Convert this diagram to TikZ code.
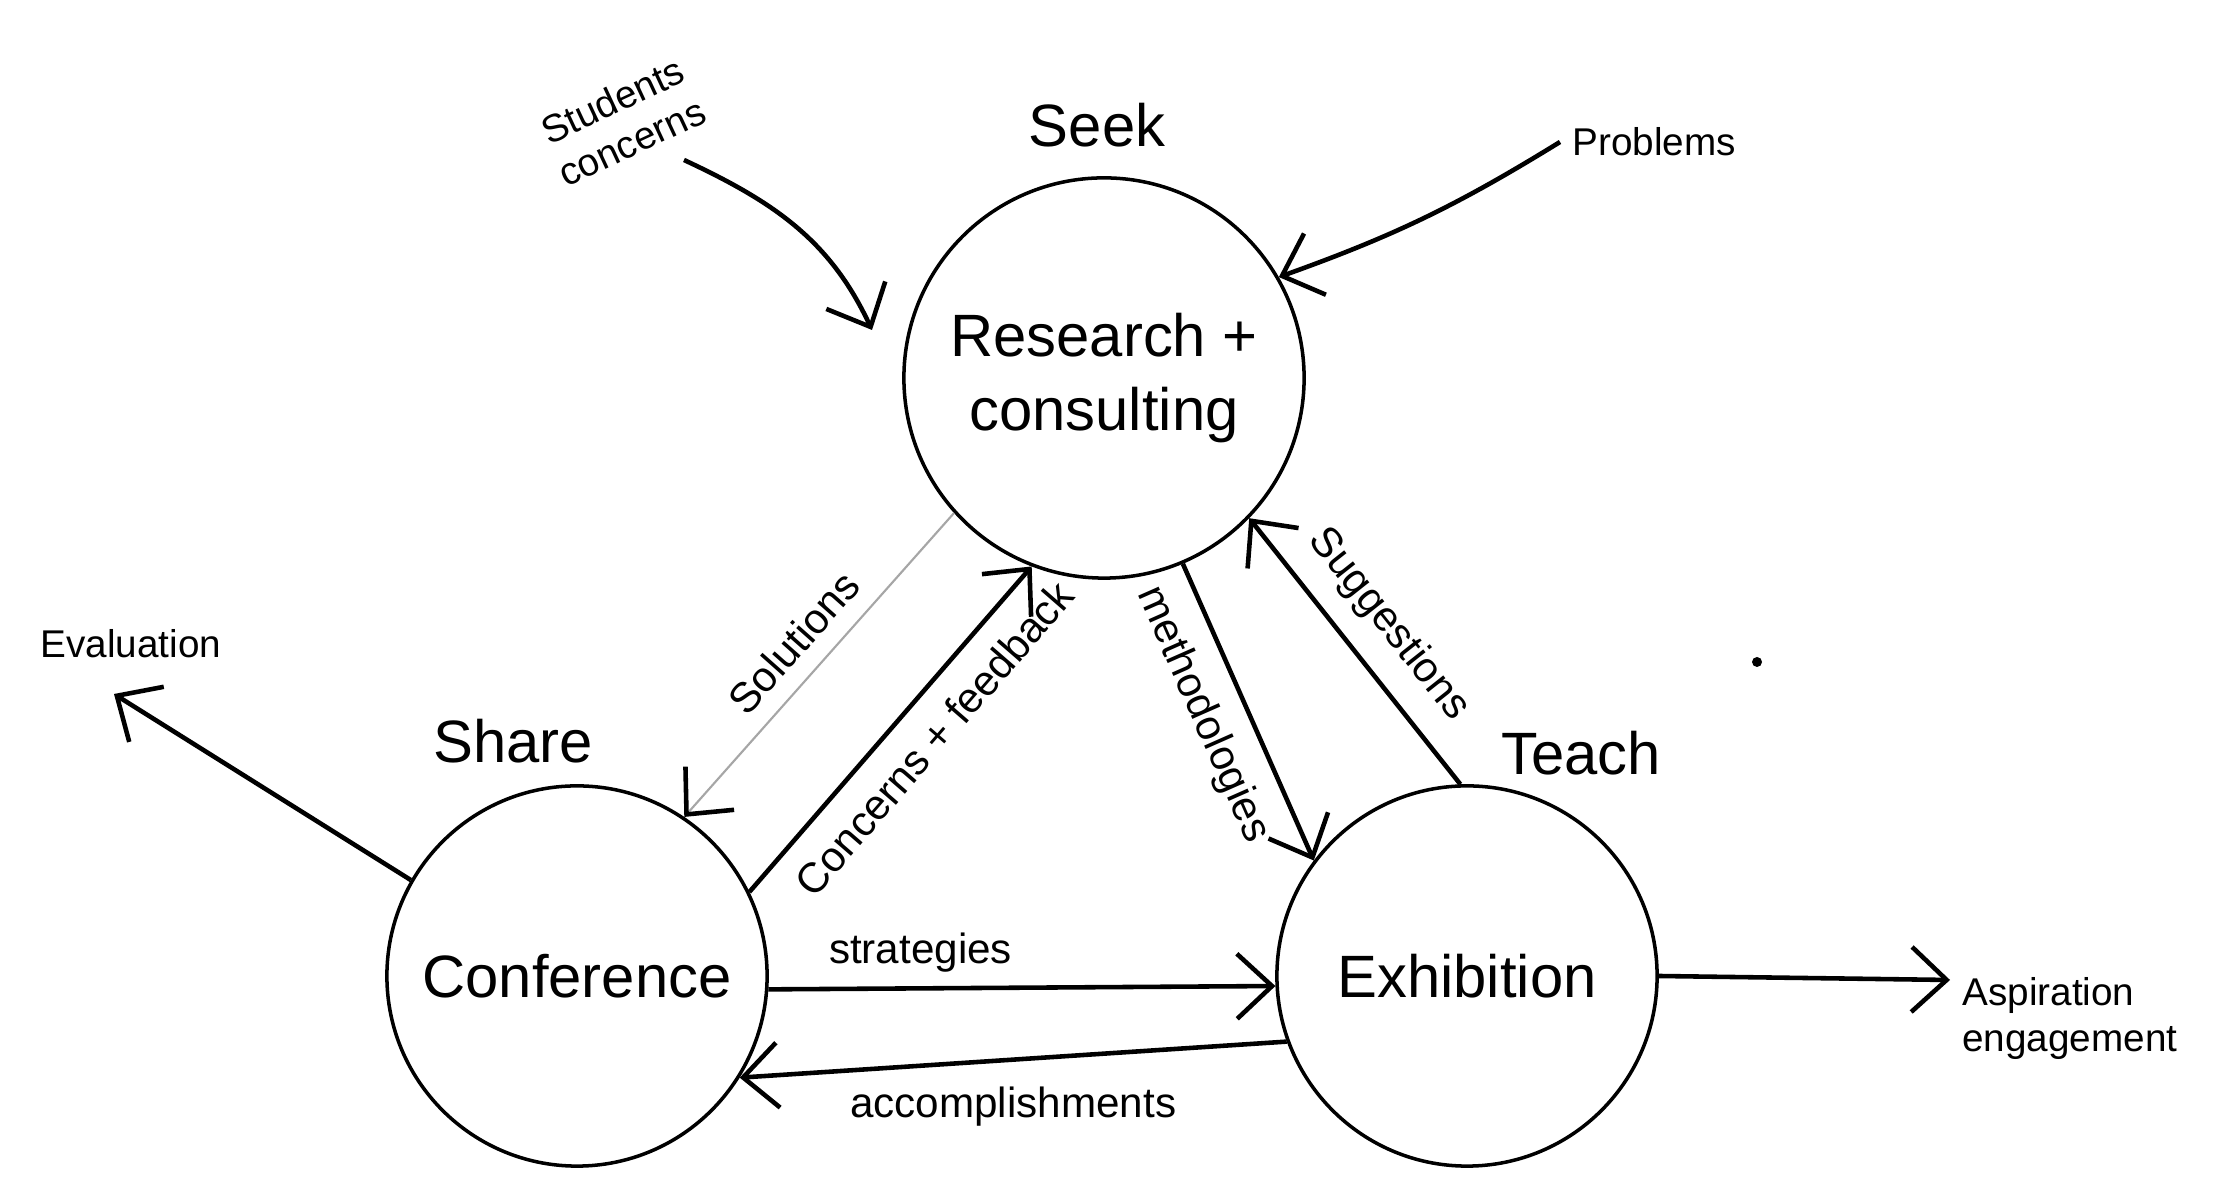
\documentclass[tikz,border=0pt]{standalone}
\usepackage{fontspec}
\setmainfont{Liberation Sans}
\usetikzlibrary{arrows.meta}
\begin{document}
\begin{tikzpicture}[x=0.01cm,y=0.01cm,
  tipk/.tip={Straight Barb[length=3.5mm,width=6.5mm,line width=1.3pt,color=black]},
  hand/.style={line width=1.3pt, -tipk},
  circ/.style={draw, circle, line width=1pt, inner sep=0pt, align=center, font=\fontsize{17}{21}\selectfont},
  lbl/.style={font=\fontsize{17}{20}\selectfont},
  small/.style={font=\fontsize{11}{13}\selectfont, align=center},
  along/.style={font=\fontsize{12}{14}\selectfont, inner sep=1pt}]
\useasboundingbox[fill=white] (0,0) rectangle (2234,1201);

% circles
\node[circ, minimum size=4cm] (seek) at (1104,823) {Research +\\consulting};
\node[circ, minimum size=3.8cm] (share) at (577,225) {Conference};
\node[circ, minimum size=3.8cm] (teach) at (1467,225) {Exhibition};

% titles
\node[lbl] (seekt) at (1097,1076) {Seek};
\node[lbl] (sharet) at (513,460) {Share};
\node[lbl] (teacht) at (1581,448) {Teach};

% outer labels
\node[small, rotate=25] (stud) at (622,1080) {Students\\concerns};
\node[small, anchor=west] (prob) at (1560,1059) {Problems};
\node[small] (eval) at (131,557) {Evaluation};
\node[small, align=left, anchor=north west] (asp) at (1950,236) {Aspiration\\engagement};
\coordinate (evalin) at (114,507);
\coordinate (aspin) at (1950,221);
\coordinate (studout) at (684,1041);
\coordinate (studin) at (872,871);

% outer arrows
\draw[hand] (studout) to[out=-25,in=115] (studin);
\draw[hand] (prob.west) to[bend left=6] (seek.30);
\draw[hand] (share.150) -- (evalin);
\draw[hand] (teach.east) -- (aspin);

% left pair
\draw[hand, draw=black!35, line width=0.6pt] (seek.222) -- (share.56)
  node[along, midway, sloped, above=4pt, text=black] {Solutions};
\draw[hand] (share.26) -- (seek.249)
  node[along, pos=0.55, sloped, below=5pt] {Concerns + feedback};

% right pair
\draw[hand] (seek.293) -- (teach.143)
  node[along, pos=0.45, sloped, below=5pt] {methodologies};
\draw[hand] (teach.92) -- (seek.316)
  node[along, pos=0.5, sloped, above=5pt] {Suggestions};

% bottom pair
\draw[hand] (share.-4) -- (teach.183)
  node[along, pos=0.3, above=3pt] {strategies};
\draw[hand] (teach.200) -- (share.328)
  node[along, midway, below=6pt] {accomplishments};

% stray dot
\fill (1757,539) circle (5);
\end{tikzpicture}
\end{document}
